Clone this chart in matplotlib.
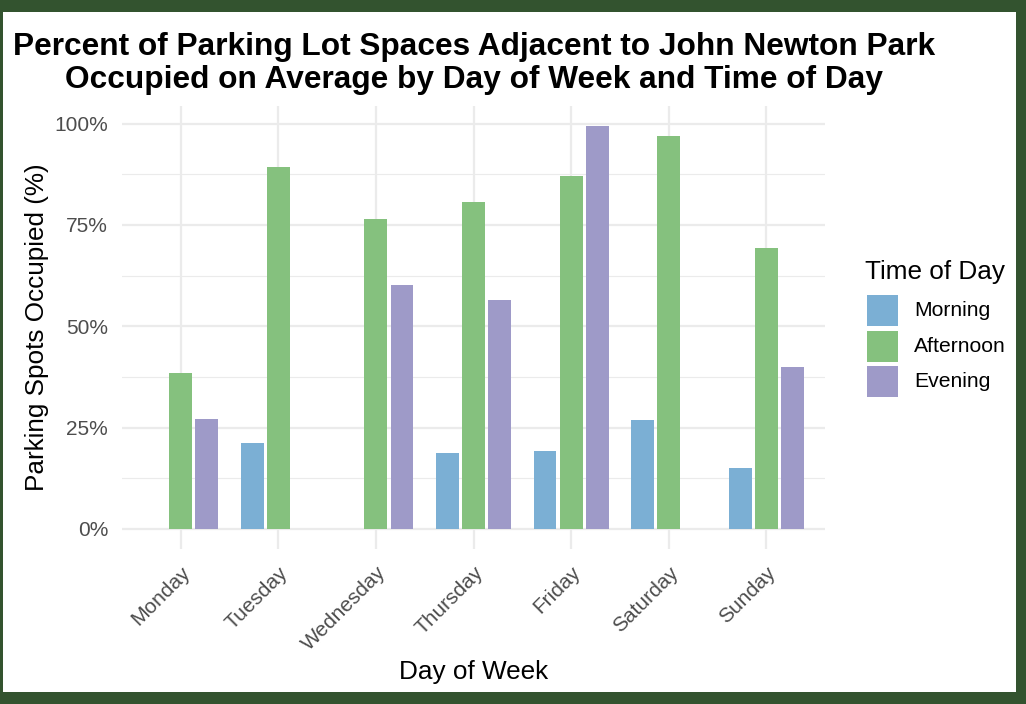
import matplotlib
matplotlib.use("Agg")
import matplotlib.pyplot as plt
from matplotlib.patches import Rectangle
import numpy as np

plt.rcParams['font.family'] = ['Liberation Sans', 'DejaVu Sans']

days = ["Monday", "Tuesday", "Wednesday", "Thursday", "Friday", "Saturday", "Sunday"]
times = ["Morning", "Afternoon", "Evening"]
morning = [np.nan, 21.3, np.nan, 18.7, 19.2, 26.9, 14.9]
afternoon = [38.4, 89.2, 76.4, 80.6, 87.0, 97.0, 69.3]
evening = [27.0, np.nan, 60.2, 56.5, 99.4, np.nan, 40.0]
colors = ["#7BAFD4", "#85C17E", "#9E9AC8"]
yticks = [0, 25, 50, 75, 100]
ytick_labels = ["0%", "25%", "50%", "75%", "100%"]

W, H = 1026, 704
fig = plt.figure(figsize=(W / 100, H / 100), dpi=100)
fig.patch.set_facecolor("#33532F")
fig.add_artist(Rectangle((3 / W, 12 / H), (1016 - 3) / W, (692 - 12) / H,
                         transform=fig.transFigure, facecolor="white",
                         edgecolor="none", zorder=0))

ax = fig.add_axes([122 / W, 1 - 549 / H, (825 - 122) / W, (549 - 106) / H])
ax.set_facecolor("none")
x = np.arange(len(days))
step = 0.8 / 3
bw = 0.7 / 3
for i, (vals, c, lab) in enumerate(zip([morning, afternoon, evening], colors, times)):
    v = np.array(vals, dtype=float)
    m = ~np.isnan(v)
    ax.bar(x[m] + (i - 1) * step, v[m], width=bw, color=c, label=lab, zorder=3)

ymax = 99.4
ax.set_ylim(-0.05 * ymax, ymax * 1.05)
ax.set_xlim(-0.6, len(days) - 1 + 0.6)
ax.set_yticks(yticks)
ax.set_yticklabels(ytick_labels)
ax.set_yticks([12.5, 37.5, 62.5, 87.5], minor=True)
ax.set_xticks(x)
ax.set_xticklabels(days, rotation=45, ha="right", va="top", rotation_mode="anchor")
ax.grid(True, which="major", color="#EBEBEB", linewidth=1.6, zorder=0)
ax.grid(True, which="minor", axis="y", color="#EBEBEB", linewidth=0.8, zorder=0)
ax.set_axisbelow(True)
for s in ax.spines.values():
    s.set_visible(False)
ax.tick_params(axis="both", which="both", length=0, labelsize=15, labelcolor="#4D4D4D")
ax.tick_params(axis="y", pad=10)
ax.tick_params(axis="x", pad=10)

ax.set_xlabel("Day of Week", fontsize=18.8, color="black", labelpad=4)
ax.set_ylabel("Parking Spots Occupied (%)", fontsize=18.8, color="black", labelpad=4)

fig.text(474 / W, 1 - 63.5 / H,
         "Percent of Parking Lot Spaces Adjacent to John Newton Park\nOccupied on Average by Day of Week and Time of Day",
         ha="center", va="center", fontsize=22.8, fontweight="bold", linespacing=1.12)

# legend drawn manually in figure pixel coordinates
fig.text(865 / W, 1 - 272 / H, "Time of Day", ha="left", va="center",
         fontsize=18.8, color="black")
for k, (lab, c) in enumerate(zip(times, colors)):
    top = 295 + k * 35.5
    fig.add_artist(Rectangle((867 / W, 1 - (top + 31) / H), 31 / W, 31 / H,
                             transform=fig.transFigure, facecolor=c, edgecolor="none"))
    fig.text(914 / W, 1 - (top + 15.5) / H, lab, ha="left", va="center",
             fontsize=15.2, color="black")

fig.savefig("out.png", dpi=100, facecolor=fig.get_facecolor())
